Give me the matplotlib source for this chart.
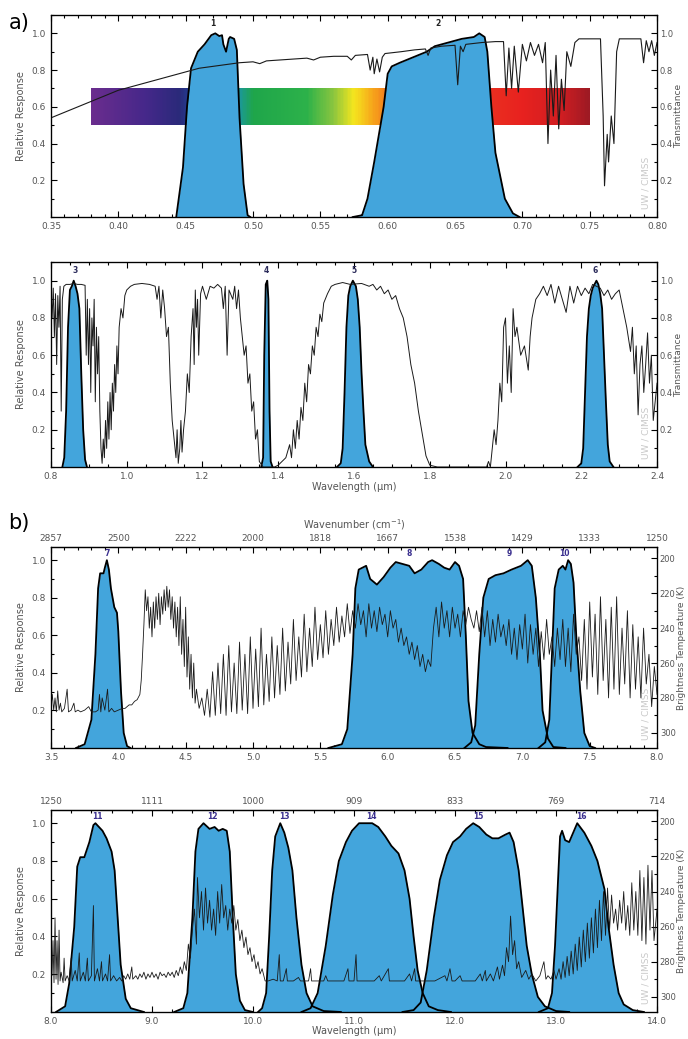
import numpy as np
import matplotlib
matplotlib.use("Agg")
import matplotlib.pyplot as plt
from matplotlib.colors import LinearSegmentedColormap
from matplotlib.ticker import MultipleLocator, FormatStrFormatter

# ---------------- datos: panel a) superior (0.35 - 0.80 um) ----------------
trans1_wl = [0.350, 0.360, 0.370, 0.380, 0.390, 0.400, 0.410, 0.420, 0.430, 0.440,
             0.450, 0.460, 0.470, 0.480, 0.490, 0.500, 0.505, 0.510, 0.520, 0.530,
             0.540, 0.545, 0.550, 0.560, 0.570, 0.573, 0.576, 0.585, 0.587, 0.589,
             0.590, 0.592, 0.594, 0.596, 0.598, 0.610, 0.620, 0.628, 0.630, 0.632,
             0.640, 0.650, 0.652, 0.654, 0.656, 0.658, 0.670, 0.680, 0.686, 0.688,
             0.690, 0.692, 0.694, 0.697, 0.700, 0.703, 0.706, 0.709, 0.712, 0.715,
             0.717, 0.719, 0.721, 0.723, 0.725, 0.727, 0.729, 0.731, 0.733, 0.736,
             0.739, 0.742, 0.758, 0.760, 0.761, 0.763, 0.764, 0.766, 0.768, 0.770,
             0.772, 0.788, 0.790, 0.792, 0.794, 0.796, 0.798, 0.800]
trans1_val = [0.54, 0.57, 0.60, 0.63, 0.66, 0.69, 0.71, 0.73, 0.75, 0.77,
              0.79, 0.81, 0.82, 0.83, 0.84, 0.845, 0.835, 0.85, 0.855, 0.86,
              0.865, 0.855, 0.87, 0.875, 0.875, 0.855, 0.88, 0.885, 0.80, 0.87,
              0.78, 0.86, 0.79, 0.87, 0.89, 0.90, 0.91, 0.915, 0.88, 0.92,
              0.93, 0.935, 0.72, 0.93, 0.90, 0.94, 0.95, 0.955, 0.955, 0.66,
              0.92, 0.70, 0.93, 0.68, 0.94, 0.85, 0.95, 0.88, 0.94, 0.84,
              0.95, 0.40, 0.80, 0.55, 0.88, 0.48, 0.75, 0.58, 0.90, 0.82,
              0.95, 0.97, 0.97, 0.55, 0.17, 0.45, 0.30, 0.55, 0.40, 0.90,
              0.97, 0.97, 0.84, 0.96, 0.90, 0.96, 0.88, 0.95]

band1_wl = [0.443, 0.448, 0.451, 0.454, 0.459, 0.464, 0.469, 0.472, 0.475, 0.477,
            0.478, 0.480, 0.482, 0.483, 0.486, 0.488, 0.490, 0.493, 0.496, 0.498]
band1_rsp = [0.0, 0.27, 0.60, 0.81, 0.90, 0.94, 0.99, 1.0, 0.985, 0.99,
             0.94, 0.90, 0.97, 0.98, 0.97, 0.91, 0.54, 0.18, 0.01, 0.0]

band2_wl = [0.574, 0.581, 0.585, 0.590, 0.597, 0.600, 0.603, 0.609, 0.619, 0.629,
            0.635, 0.645, 0.655, 0.664, 0.668, 0.672, 0.674, 0.677, 0.680, 0.687,
            0.693, 0.698]
band2_rsp = [0.0, 0.01, 0.10, 0.30, 0.60, 0.78, 0.82, 0.84, 0.87, 0.90,
             0.93, 0.95, 0.97, 0.98, 1.0, 0.98, 0.90, 0.60, 0.35, 0.10,
             0.02, 0.0]

# ---------------- datos: panel a) inferior (0.8 - 2.4 um) ----------------
trans2_wl = [0.800, 0.803, 0.806, 0.809, 0.812, 0.815, 0.818, 0.821, 0.824, 0.827,
             0.830, 0.834, 0.840, 0.850, 0.860, 0.870, 0.880, 0.890, 0.893, 0.896,
             0.899, 0.902, 0.905, 0.908, 0.911, 0.914, 0.917, 0.920, 0.923, 0.926,
             0.929, 0.932, 0.935, 0.938, 0.941, 0.944, 0.947, 0.950, 0.953, 0.956,
             0.959, 0.962, 0.965, 0.968, 0.971, 0.974, 0.977, 0.980, 0.985, 0.990,
             0.995, 1.000, 1.010, 1.020, 1.040, 1.060, 1.075, 1.080, 1.085, 1.090,
             1.095, 1.100, 1.105, 1.110, 1.115, 1.120, 1.125, 1.130, 1.133, 1.136,
             1.140, 1.143, 1.146, 1.150, 1.155, 1.160, 1.165, 1.170, 1.175, 1.178,
             1.181, 1.184, 1.187, 1.190, 1.195, 1.200, 1.210, 1.220, 1.230, 1.240,
             1.250, 1.255, 1.260, 1.265, 1.270, 1.280, 1.285, 1.290, 1.295, 1.300,
             1.305, 1.310, 1.315, 1.320, 1.325, 1.330, 1.335, 1.340, 1.345, 1.350,
             1.360, 1.390, 1.400, 1.410, 1.420, 1.430, 1.435, 1.440, 1.445, 1.450,
             1.455, 1.460, 1.465, 1.470, 1.475, 1.480, 1.485, 1.490, 1.495, 1.500,
             1.505, 1.510, 1.515, 1.520, 1.530, 1.540, 1.550, 1.570, 1.590, 1.620,
             1.640, 1.650, 1.660, 1.670, 1.680, 1.690, 1.700, 1.710, 1.720, 1.730,
             1.740, 1.750, 1.760, 1.770, 1.780, 1.790, 1.800, 1.820, 1.950, 1.955,
             1.960, 1.965, 1.970, 1.975, 1.980, 1.985, 1.990, 1.995, 2.000, 2.005,
             2.010, 2.015, 2.020, 2.025, 2.030, 2.040, 2.050, 2.060, 2.065, 2.070,
             2.080, 2.090, 2.100, 2.110, 2.120, 2.130, 2.140, 2.150, 2.160, 2.170,
             2.180, 2.190, 2.200, 2.210, 2.220, 2.230, 2.250, 2.260, 2.270, 2.280,
             2.290, 2.300, 2.310, 2.320, 2.330, 2.335, 2.340, 2.345, 2.350, 2.355,
             2.360, 2.365, 2.370, 2.375, 2.380, 2.385, 2.390, 2.395, 2.400]
trans2_val = [0.95, 0.80, 0.96, 0.70, 0.93, 0.55, 0.92, 0.75, 0.97, 0.30,
              0.90, 0.97, 0.98, 0.98, 0.985, 0.98, 0.98, 0.975, 0.60, 0.90,
              0.55, 0.85, 0.40, 0.80, 0.65, 0.90, 0.35, 0.75, 0.50, 0.70,
              0.30, 0.10, 0.02, 0.15, 0.05, 0.25, 0.10, 0.35, 0.15, 0.40,
              0.20, 0.45, 0.30, 0.55, 0.40, 0.65, 0.50, 0.75, 0.85, 0.80,
              0.92, 0.95, 0.97, 0.98, 0.985, 0.98, 0.97, 0.90, 0.97, 0.80,
              0.95, 0.85, 0.70, 0.75, 0.45, 0.25, 0.15, 0.05, 0.20, 0.02,
              0.10, 0.25, 0.08, 0.20, 0.30, 0.50, 0.40, 0.70, 0.85, 0.55,
              0.95, 0.75, 0.90, 0.60, 0.93, 0.97, 0.90, 0.97, 0.96, 0.98,
              0.96, 0.85, 0.97, 0.60, 0.95, 0.90, 0.97, 0.85, 0.95, 0.80,
              0.70, 0.60, 0.65, 0.45, 0.50, 0.30, 0.35, 0.15, 0.20, 0.03,
              0.00, 0.00, 0.01, 0.03, 0.05, 0.12, 0.05, 0.20, 0.10, 0.25,
              0.15, 0.32, 0.25, 0.45, 0.35, 0.55, 0.50, 0.65, 0.60, 0.75,
              0.70, 0.82, 0.78, 0.88, 0.93, 0.97, 0.98, 0.99, 0.98, 0.985,
              0.97, 0.98, 0.95, 0.97, 0.93, 0.95, 0.90, 0.92, 0.85, 0.80,
              0.70, 0.55, 0.45, 0.30, 0.18, 0.06, 0.01, 0.00, 0.00, 0.03,
              0.00, 0.10, 0.20, 0.12, 0.25, 0.45, 0.35, 0.75, 0.80, 0.45,
              0.65, 0.40, 0.85, 0.70, 0.75, 0.60, 0.65, 0.52, 0.70, 0.80,
              0.90, 0.93, 0.97, 0.92, 0.98, 0.88, 0.97, 0.90, 0.83, 0.97,
              0.88, 0.97, 0.92, 0.96, 0.93, 0.98, 0.96, 0.92, 0.95, 0.90,
              0.93, 0.95, 0.85, 0.75, 0.62, 0.75, 0.50, 0.65, 0.28, 0.55,
              0.65, 0.40, 0.55, 0.72, 0.45, 0.60, 0.25, 0.35, 0.45]

band3_wl = [0.830, 0.835, 0.840, 0.845, 0.850, 0.855, 0.860, 0.865, 0.870, 0.875,
            0.880, 0.885, 0.890, 0.895]
band3_rsp = [0.0, 0.05, 0.30, 0.75, 0.95, 0.97, 1.0, 0.97, 0.93, 0.85,
             0.50, 0.20, 0.04, 0.0]
band4_wl = [1.355, 1.360, 1.363, 1.367, 1.371, 1.374, 1.377, 1.380, 1.385]
band4_rsp = [0.0, 0.05, 0.60, 0.98, 1.0, 0.90, 0.30, 0.03, 0.0]
band5_wl = [1.555, 1.565, 1.570, 1.575, 1.580, 1.585, 1.590, 1.597, 1.605, 1.610,
            1.615, 1.620, 1.625, 1.630, 1.640, 1.650]
band5_rsp = [0.0, 0.02, 0.10, 0.40, 0.75, 0.92, 0.97, 1.0, 0.97, 0.90,
             0.75, 0.50, 0.30, 0.12, 0.03, 0.0]
band6_wl = [2.190, 2.200, 2.205, 2.210, 2.215, 2.220, 2.225, 2.230, 2.240, 2.245,
            2.250, 2.255, 2.260, 2.265, 2.270, 2.275, 2.285]
band6_rsp = [0.0, 0.02, 0.10, 0.40, 0.70, 0.85, 0.92, 0.96, 1.0, 0.98,
             0.93, 0.85, 0.60, 0.35, 0.12, 0.03, 0.0]

# ---------------- datos: panel b) superior (3.5 - 8.0 um) ----------------
bt3_wl = [3.50, 3.51, 3.52, 3.53, 3.54, 3.55, 3.56, 3.57, 3.58, 3.60,
          3.62, 3.63, 3.65, 3.67, 3.68, 3.70, 3.72, 3.75, 3.78, 3.80,
          3.83, 3.85, 3.86, 3.87, 3.88, 3.90, 3.92, 3.93, 3.95, 3.97,
          4.00, 4.03, 4.05, 4.08, 4.10, 4.12, 4.14, 4.16, 4.17, 4.18,
          4.19, 4.20, 4.21, 4.22, 4.23, 4.24, 4.25, 4.26, 4.27, 4.28,
          4.29, 4.30, 4.31, 4.32, 4.33, 4.34, 4.35, 4.36, 4.37, 4.38,
          4.39, 4.40, 4.41, 4.42, 4.43, 4.44, 4.45, 4.46, 4.47, 4.48,
          4.49, 4.50, 4.51, 4.52, 4.53, 4.54, 4.55, 4.56, 4.57, 4.58,
          4.60, 4.62, 4.64, 4.66, 4.68, 4.70, 4.72, 4.74, 4.76, 4.78,
          4.80, 4.82, 4.84, 4.86, 4.88, 4.90, 4.92, 4.94, 4.96, 4.98,
          5.00, 5.02, 5.04, 5.06, 5.08, 5.10, 5.12, 5.14, 5.16, 5.18,
          5.20, 5.22, 5.24, 5.26, 5.28, 5.30, 5.32, 5.34, 5.36, 5.38,
          5.40, 5.42, 5.44, 5.46, 5.48, 5.50, 5.52, 5.54, 5.56, 5.58,
          5.60, 5.62, 5.64, 5.66, 5.68, 5.70, 5.72, 5.74, 5.76, 5.78,
          5.80, 5.82, 5.84, 5.86, 5.88, 5.90, 5.92, 5.94, 5.96, 5.98,
          6.00, 6.02, 6.04, 6.06, 6.08, 6.10, 6.12, 6.14, 6.16, 6.18,
          6.20, 6.22, 6.24, 6.26, 6.28, 6.30, 6.32, 6.34, 6.36, 6.38,
          6.40, 6.42, 6.44, 6.46, 6.48, 6.50, 6.52, 6.54, 6.56, 6.58,
          6.60, 6.62, 6.64, 6.66, 6.68, 6.70, 6.72, 6.74, 6.76, 6.78,
          6.80, 6.82, 6.84, 6.86, 6.88, 6.90, 6.92, 6.94, 6.96, 6.98,
          7.00, 7.02, 7.04, 7.06, 7.08, 7.10, 7.12, 7.14, 7.16, 7.18,
          7.20, 7.22, 7.24, 7.26, 7.28, 7.30, 7.32, 7.34, 7.36, 7.38,
          7.40, 7.42, 7.44, 7.46, 7.48, 7.50, 7.52, 7.54, 7.56, 7.58,
          7.60, 7.62, 7.64, 7.66, 7.68, 7.70, 7.72, 7.74, 7.76, 7.78,
          7.80, 7.82, 7.84, 7.86, 7.88, 7.90, 7.92, 7.94, 7.96, 7.98,
          8.00]
bt3_val = [285, 278, 287, 280, 288, 276, 287, 283, 288, 286,
           275, 288, 287, 283, 288, 287, 288, 287, 285, 288,
           288, 287, 278, 288, 280, 287, 275, 288, 286, 288,
           287, 286, 286, 284, 284, 282, 281, 278, 270, 255,
           238, 218, 230, 222, 240, 228, 245, 225, 240, 222,
           235, 220, 238, 222, 232, 218, 230, 216, 228, 218,
           235, 222, 240, 225, 245, 228, 250, 222, 255, 235,
           262, 228, 268, 245, 275, 255, 280, 260, 283, 275,
           286, 280, 290, 275, 291, 265, 290, 260, 289, 255,
           290, 250, 288, 260, 289, 248, 287, 255, 289, 245,
           286, 252, 285, 240, 284, 255, 282, 245, 280, 250,
           278, 240, 276, 248, 272, 235, 270, 245, 268, 232,
           265, 240, 262, 228, 258, 238, 257, 230, 255, 235,
           250, 228, 248, 233, 245, 226, 243, 230, 240, 226,
           238, 230, 245, 226, 240, 230, 242, 228, 238, 232,
           245, 230, 240, 235, 248, 240, 250, 245, 255, 248,
           258, 250, 262, 255, 265, 258, 262, 240, 228, 245,
           225, 240, 230, 245, 228, 240, 232, 245, 230, 238,
           228, 235, 240, 230, 242, 228, 245, 230, 250, 235,
           248, 232, 245, 238, 250, 235, 255, 240, 258, 238,
           252, 232, 260, 238, 255, 240, 262, 242, 258, 235,
           255, 245, 262, 240, 258, 235, 262, 240, 265, 232,
           255, 245, 270, 235, 275, 225, 268, 232, 278, 222,
           270, 235, 280, 228, 275, 222, 278, 240, 272, 230,
           280, 238, 275, 245, 280, 240, 272, 255, 285, 262,
           278]

band7_wl = [3.686, 3.75, 3.80, 3.83, 3.85, 3.865, 3.89, 3.90, 3.915, 3.93,
            3.945, 3.97, 3.99, 4.00, 4.02, 4.04, 4.065, 4.09]
band7_rsp = [0.0, 0.02, 0.15, 0.50, 0.85, 0.93, 0.93, 0.96, 1.0, 0.95,
             0.85, 0.75, 0.72, 0.62, 0.30, 0.08, 0.01, 0.0]
band8_wl = [5.56, 5.66, 5.70, 5.74, 5.76, 5.785, 5.84, 5.87, 5.92, 5.97,
            6.02, 6.06, 6.11, 6.16, 6.20, 6.25, 6.30, 6.33, 6.38, 6.42,
            6.46, 6.50, 6.53, 6.56, 6.58, 6.60, 6.63, 6.68, 6.73, 6.89]
band8_rsp = [0.0, 0.02, 0.10, 0.50, 0.85, 0.95, 0.97, 0.90, 0.87, 0.91,
             0.96, 0.99, 0.98, 0.97, 0.93, 0.95, 0.99, 1.0, 0.98, 0.96,
             0.95, 0.99, 0.97, 0.90, 0.60, 0.25, 0.08, 0.02, 0.005, 0.0]
band9_wl = [6.57, 6.62, 6.65, 6.68, 6.71, 6.75, 6.80, 6.86, 6.92, 6.99,
            7.04, 7.07, 7.10, 7.13, 7.15, 7.19, 7.23, 7.32]
band9_rsp = [0.0, 0.03, 0.12, 0.50, 0.80, 0.90, 0.92, 0.93, 0.95, 0.97,
             1.0, 0.97, 0.80, 0.50, 0.20, 0.05, 0.005, 0.0]
band10_wl = [7.12, 7.17, 7.20, 7.22, 7.24, 7.27, 7.30, 7.32, 7.34, 7.36,
             7.38, 7.40, 7.43, 7.46, 7.50, 7.54]
band10_rsp = [0.0, 0.03, 0.15, 0.50, 0.85, 0.95, 0.97, 0.95, 1.0, 0.98,
              0.88, 0.60, 0.30, 0.08, 0.01, 0.0]

# ---------------- datos: panel b) inferior (8 - 14 um) ----------------
bt4_wl = [8.00, 8.01, 8.02, 8.03, 8.04, 8.05, 8.06, 8.07, 8.08, 8.09,
          8.10, 8.12, 8.13, 8.14, 8.16, 8.18, 8.20, 8.21, 8.24, 8.26,
          8.28, 8.29, 8.32, 8.34, 8.36, 8.37, 8.40, 8.42, 8.43, 8.46,
          8.48, 8.50, 8.51, 8.54, 8.56, 8.58, 8.59, 8.62, 8.65, 8.68,
          8.70, 8.72, 8.74, 8.76, 8.78, 8.80, 8.81, 8.84, 8.86, 8.88,
          8.90, 8.92, 8.94, 8.96, 8.98, 9.00, 9.02, 9.04, 9.06, 9.08,
          9.10, 9.12, 9.14, 9.16, 9.18, 9.20, 9.22, 9.24, 9.26, 9.28,
          9.30, 9.32, 9.34, 9.36, 9.38, 9.40, 9.42, 9.44, 9.45, 9.47,
          9.49, 9.51, 9.53, 9.55, 9.57, 9.59, 9.61, 9.63, 9.65, 9.67,
          9.69, 9.71, 9.73, 9.75, 9.77, 9.79, 9.81, 9.83, 9.85, 9.87,
          9.89, 9.91, 9.93, 9.95, 9.97, 9.99, 10.01, 10.03, 10.05, 10.07,
          10.09, 10.12, 10.15, 10.20, 10.24, 10.26, 10.27, 10.30, 10.33, 10.34,
          10.40, 10.45, 10.47, 10.55, 10.57, 10.58, 10.70, 10.72, 10.74, 10.90,
          10.94, 10.95, 11.00, 11.02, 11.03, 11.20, 11.25, 11.27, 11.34, 11.35,
          11.50, 11.55, 11.57, 11.60, 11.61, 11.80, 11.90, 11.92, 11.95, 11.97,
          12.00, 12.05, 12.07, 12.20, 12.25, 12.27, 12.30, 12.31, 12.35, 12.38,
          12.42, 12.44, 12.47, 12.49, 12.51, 12.53, 12.55, 12.57, 12.59, 12.61,
          12.63, 12.66, 12.70, 12.73, 12.76, 12.80, 12.84, 12.88, 12.90, 12.92,
          12.95, 12.98, 13.00, 13.03, 13.05, 13.07, 13.09, 13.11, 13.13, 13.15,
          13.17, 13.19, 13.21, 13.23, 13.25, 13.27, 13.29, 13.31, 13.33, 13.35,
          13.37, 13.39, 13.41, 13.43, 13.45, 13.47, 13.49, 13.51, 13.53, 13.55,
          13.57, 13.59, 13.61, 13.63, 13.65, 13.67, 13.69, 13.71, 13.73, 13.75,
          13.77, 13.79, 13.81, 13.83, 13.85, 13.87, 13.89, 13.91, 13.93, 13.95,
          13.97, 14.00]
bt4_val = [262, 288, 268, 292, 255, 290, 268, 293, 262, 291,
           286, 292, 278, 291, 288, 291, 278, 291, 285, 291,
           275, 291, 286, 291, 278, 291, 288, 248, 291, 284,
           291, 280, 291, 287, 291, 276, 291, 288, 291, 289,
           291, 288, 290, 287, 290, 283, 290, 288, 290, 287,
           289, 286, 290, 287, 289, 286, 289, 287, 290, 286,
           288, 287, 289, 286, 288, 286, 289, 285, 288, 283,
           287, 280, 285, 270, 278, 262, 250, 270, 232, 255,
           240, 262, 238, 258, 245, 262, 250, 265, 240, 258,
           236, 255, 248, 262, 250, 258, 248, 262, 256, 268,
           262, 272, 266, 276, 272, 280, 276, 284, 280, 287,
           284, 291, 291, 290, 291, 276, 291, 291, 284, 291,
           291, 289, 291, 291, 284, 291, 291, 288, 291, 291,
           284, 291, 291, 276, 291, 291, 288, 291, 284, 291,
           291, 287, 291, 284, 291, 291, 288, 291, 284, 291,
           291, 288, 291, 291, 287, 291, 285, 291, 287, 291,
           283, 290, 282, 288, 272, 280, 254, 276, 268, 284,
           280, 289, 285, 290, 287, 291, 288, 280, 290, 288,
           290, 285, 290, 284, 290, 280, 289, 277, 288, 274,
           287, 270, 285, 266, 283, 262, 280, 258, 278, 255,
           275, 250, 272, 245, 268, 240, 265, 238, 262, 242,
           258, 250, 262, 245, 258, 240, 262, 248, 265, 235,
           262, 240, 265, 228, 268, 232, 270, 225, 262, 228,
           268, 250]

band11_wl = [8.05, 8.14, 8.18, 8.23, 8.26, 8.29, 8.33, 8.38, 8.42, 8.44,
             8.51, 8.55, 8.60, 8.63, 8.66, 8.69, 8.74, 8.79, 8.92]
band11_rsp = [0.0, 0.03, 0.15, 0.45, 0.77, 0.82, 0.82, 0.90, 0.99, 1.0,
              0.96, 0.92, 0.85, 0.75, 0.50, 0.25, 0.07, 0.02, 0.0]
band12_wl = [9.22, 9.31, 9.35, 9.40, 9.43, 9.46, 9.51, 9.57, 9.62, 9.66,
             9.70, 9.74, 9.77, 9.80, 9.83, 9.87, 9.92, 10.00]
band12_rsp = [0.0, 0.02, 0.10, 0.50, 0.85, 0.97, 1.0, 0.97, 0.98, 0.96,
              0.97, 0.96, 0.85, 0.50, 0.20, 0.06, 0.01, 0.0]
band13_wl = [10.05, 10.09, 10.13, 10.16, 10.19, 10.22, 10.27, 10.31, 10.35, 10.39,
             10.43, 10.48, 10.53, 10.59, 10.70, 10.87]
band13_rsp = [0.0, 0.02, 0.10, 0.40, 0.75, 0.93, 1.0, 0.95, 0.87, 0.75,
              0.50, 0.25, 0.10, 0.03, 0.005, 0.0]
band14_wl = [10.48, 10.57, 10.64, 10.72, 10.79, 10.85, 10.92, 10.98, 11.05, 11.18,
             11.24, 11.31, 11.37, 11.44, 11.50, 11.55, 11.59, 11.63, 11.68, 11.74,
             11.83, 11.96]
band14_rsp = [0.0, 0.02, 0.10, 0.35, 0.62, 0.80, 0.90, 0.96, 1.0, 1.0,
              0.98, 0.93, 0.88, 0.84, 0.75, 0.60, 0.40, 0.22, 0.10, 0.03,
              0.01, 0.0]
band15_wl = [11.48, 11.59, 11.66, 11.72, 11.79, 11.85, 11.92, 11.98, 12.05, 12.11,
             12.18, 12.24, 12.31, 12.37, 12.43, 12.50, 12.54, 12.58, 12.63, 12.67,
             12.71, 12.76, 12.82, 12.89, 13.00, 13.13]
band15_rsp = [0.0, 0.01, 0.05, 0.22, 0.50, 0.70, 0.83, 0.90, 0.93, 0.97,
              1.0, 0.98, 0.94, 0.92, 0.92, 0.94, 0.95, 0.90, 0.75, 0.55,
              0.35, 0.20, 0.08, 0.03, 0.005, 0.0]
band16_wl = [12.83, 12.92, 12.96, 12.99, 13.02, 13.04, 13.06, 13.09, 13.13, 13.17,
             13.21, 13.28, 13.35, 13.41, 13.48, 13.52, 13.57, 13.62, 13.67, 13.76,
             13.87]
band16_rsp = [0.0, 0.02, 0.10, 0.35, 0.70, 0.93, 0.96, 0.91, 0.90, 0.95,
              1.0, 0.95, 0.88, 0.80, 0.65, 0.45, 0.25, 0.10, 0.04, 0.01,
              0.0]

# etiquetas del eje superior (numero de onda, cm-1)
wn_ticks_b1 = [3.5, 4.0, 4.5, 5.0, 5.5, 6.0, 6.5, 7.0, 7.5, 8.0]
wn_labels_b1 = ["2857", "2500", "2222", "2000", "1818", "1667", "1538", "1429", "1333", "1250"]
wn_ticks_b2 = [8.0, 9.0, 10.0, 11.0, 12.0, 13.0, 14.0]
wn_labels_b2 = ["1250", "1111", "1000", "909", "833", "769", "714"]

# colores del espectro visible (barra arcoiris)
rainbow_range = (0.38, 0.75, 0.5, 0.7)
rainbow_stops = [(0.380, "#6a2d8e"), (0.420, "#45288a"), (0.445, "#2a2a7a"),
                 (0.460, "#1d4fa8"), (0.472, "#23a9e0"), (0.482, "#1a8fd0"),
                 (0.500, "#1fa64a"), (0.540, "#2db24a"), (0.560, "#8cc63f"),
                 (0.575, "#f5e61e"), (0.590, "#f7a21b"), (0.600, "#f27a20"),
                 (0.640, "#ee4423"), (0.700, "#e8221f"), (0.730, "#d01e22"),
                 (0.750, "#9e1a24")]

BLUE = "#43a5dc"
GRAY_TXT = "#555555"
FS = 6.5

fig = plt.figure(figsize=(6.88, 10.39), dpi=100)
L, W = 0.0741, 0.8809


def base_axes(rect, xlim, major, minor, fmt, ytop):
    ax = fig.add_axes(rect)
    ax.set_xlim(*xlim)
    ax.set_ylim(0, ytop)
    ax.xaxis.set_major_locator(MultipleLocator(major))
    ax.xaxis.set_minor_locator(MultipleLocator(minor))
    ax.xaxis.set_major_formatter(FormatStrFormatter(fmt))
    ax.set_yticks([0.2, 0.4, 0.6, 0.8, 1.0])
    ax.yaxis.set_minor_locator(MultipleLocator(0.1))
    ax.yaxis.set_major_formatter(FormatStrFormatter("%.1f"))
    ax.tick_params(which="both", direction="in", top=True, right=False,
                   labelsize=FS, labelcolor=GRAY_TXT, width=0.8)
    ax.tick_params(which="major", length=4)
    ax.tick_params(which="minor", length=2.5)
    ax.set_ylabel("Relative Response", fontsize=FS + 0.5, color=GRAY_TXT, labelpad=4)
    for s in ax.spines.values():
        s.set_linewidth(0.9)
    ax.text(0.982, 0.04, "UW / CIMSS", transform=ax.transAxes, rotation=90,
            fontsize=6.5, color="#c8c8c8", ha="center", va="bottom")
    return ax


def draw_bands(ax, bands, names, label_color, label_y):
    for wl, rsp in bands:
        ax.fill_between(wl, rsp, 0, color=BLUE, lw=0, zorder=2)
    for (wl, rsp), name in zip(bands, names):
        ax.plot(wl, rsp, color="black", lw=1.3, zorder=3)
        # etiqueta centrada en la mitad de la banda (ancho a media altura)
        half = [w for w, r in zip(wl, rsp) if r >= 0.5]
        ax.text((half[0] + half[-1]) / 2, label_y, name, fontsize=5.5, fontweight="bold",
                color=label_color, ha="center", va="top", zorder=4)


def right_axis(ax, label, bt=False):
    ax2 = ax.twinx()
    if bt:
        ax2.set_ylim(308.7, 193.5)
        ax2.set_yticks([200, 220, 240, 260, 280, 300])
        ax2.yaxis.set_minor_locator(MultipleLocator(10))
        ax2.yaxis.set_major_formatter(FormatStrFormatter("%d"))
    else:
        ax2.set_ylim(ax.get_ylim())
        ax2.set_yticks([0.2, 0.4, 0.6, 0.8, 1.0])
        ax2.yaxis.set_minor_locator(MultipleLocator(0.1))
        ax2.yaxis.set_major_formatter(FormatStrFormatter("%.1f"))
    ax2.tick_params(which="both", direction="in", labelsize=6, labelcolor=GRAY_TXT,
                    width=0.8, pad=2)
    ax2.tick_params(which="major", length=4)
    ax2.tick_params(which="minor", length=2.5)
    ax2.set_ylabel(label, fontsize=6.5, color=GRAY_TXT, labelpad=1)
    return ax2


# ---- panel a1 ----
ax1 = base_axes([L, 0.7911, W, 0.1945], (0.35, 0.80), 0.05, 0.01, "%.2f", 1.1)
pos = [(w - rainbow_range[0]) / (rainbow_range[1] - rainbow_range[0]) for w, _ in rainbow_stops]
cmap = LinearSegmentedColormap.from_list("vis", list(zip(pos, [c for _, c in rainbow_stops])))
ax1.imshow(np.linspace(0, 1, 400)[None, :], cmap=cmap, aspect="auto",
           extent=rainbow_range, zorder=1)
draw_bands(ax1, [(band1_wl, band1_rsp), (band2_wl, band2_rsp)], ["1", "2"], "#222222", 1.08)
ax1b = right_axis(ax1, "Transmittance")
ax1b.plot(trans1_wl, trans1_val, color="#1a1a1a", lw=0.8)

# ---- panel a2 ----
ax2 = base_axes([L, 0.5505, W, 0.1973], (0.8, 2.4), 0.2, 0.05, "%.1f", 1.1)
draw_bands(ax2, [(band3_wl, band3_rsp), (band4_wl, band4_rsp),
                 (band5_wl, band5_rsp), (band6_wl, band6_rsp)],
           ["3", "4", "5", "6"], "#2a2a5a", 1.08)
ax2b = right_axis(ax2, "Transmittance")
ax2b.plot(trans2_wl, trans2_val, color="#1a1a1a", lw=0.7)
ax2.set_xlabel("Wavelength (μm)", fontsize=FS + 0.5, color=GRAY_TXT, labelpad=1)

# ---- panel b1 ----
ax3 = base_axes([L, 0.2801, W, 0.1934], (3.5, 8.0), 0.5, 0.1, "%.1f", 1.07)
draw_bands(ax3, [(band7_wl, band7_rsp), (band8_wl, band8_rsp),
                 (band9_wl, band9_rsp), (band10_wl, band10_rsp)],
           ["7", "8", "9", "10"], "#3a2f8f", 1.06)
ax3b = right_axis(ax3, "Brightness Temperature (K)", bt=True)
ax3b.plot(bt3_wl, bt3_val, color="#1a1a1a", lw=0.6)
sec3 = ax3.secondary_xaxis("top")
sec3.set_xticks(wn_ticks_b1, labels=wn_labels_b1)
sec3.tick_params(length=0, labelsize=FS, labelcolor=GRAY_TXT, pad=3)
sec3.set_xlabel("Wavenumber (cm$^{-1}$)", fontsize=FS + 0.5, color=GRAY_TXT, labelpad=4)

# ---- panel b2 ----
ax4 = base_axes([L, 0.0260, W, 0.1944], (8.0, 14.0), 1.0, 0.2, "%.1f", 1.07)
draw_bands(ax4, [(band11_wl, band11_rsp), (band12_wl, band12_rsp), (band13_wl, band13_rsp),
                 (band14_wl, band14_rsp), (band15_wl, band15_rsp), (band16_wl, band16_rsp)],
           ["11", "12", "13", "14", "15", "16"], "#3a2f8f", 1.06)
ax4b = right_axis(ax4, "Brightness Temperature (K)", bt=True)
ax4b.plot(bt4_wl, bt4_val, color="#1a1a1a", lw=0.6)
sec4 = ax4.secondary_xaxis("top")
sec4.set_xticks(wn_ticks_b2, labels=wn_labels_b2)
sec4.tick_params(length=0, labelsize=FS, labelcolor=GRAY_TXT, pad=3)
ax4.set_xlabel("Wavelength (μm)", fontsize=FS + 0.5, color=GRAY_TXT, labelpad=0)

fig.text(0.012, 0.978, "a)", fontsize=15, ha="left", va="center")
fig.text(0.012, 0.497, "b)", fontsize=15, ha="left", va="center")

fig.savefig("out.png", dpi=100)
